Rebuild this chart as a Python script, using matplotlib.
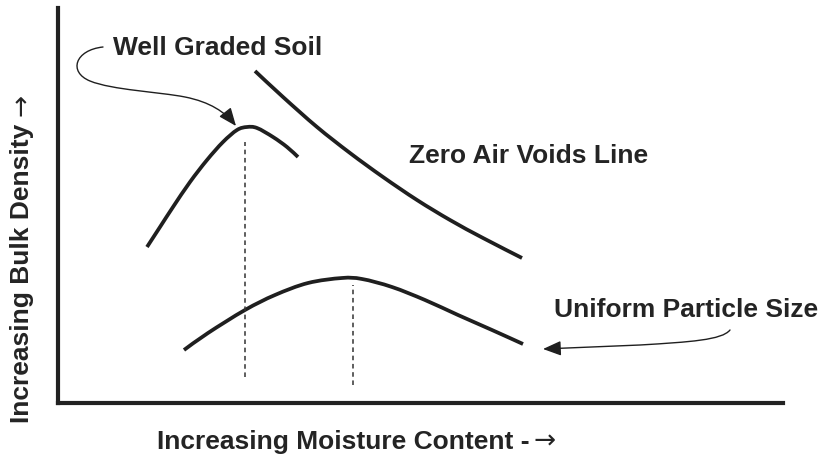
import matplotlib
matplotlib.use("Agg")
import matplotlib.pyplot as plt
from matplotlib.path import Path
from matplotlib.patches import FancyArrowPatch, PathPatch

plt.rcParams['font.family'] = ['Liberation Sans', 'DejaVu Sans']

# ---- data (arbitrary units) ----
well_x = [89, 102, 115, 132, 149, 165, 179, 189, 199, 215, 229, 240]
well_y = [156, 176, 196, 221, 243, 261, 273, 276, 275, 266, 256, 246]

zav_x = [197, 225, 259, 292, 325, 359, 392, 425, 464]
zav_y = [332, 306, 276, 250, 226, 203, 183, 165, 145]

unif_x = [126, 150, 187, 217, 250, 284, 304, 334, 367, 400, 434, 465]
unif_y = [53, 70, 93, 108, 120, 125, 124, 116, 103, 88, 73, 59]

opt_well_x = 187
opt_well_y = [26, 261]
opt_unif_x = 295
opt_unif_y = [18, 118]

label_well = "Well Graded Soil"
label_zav = "Zero Air Voids Line"
label_unif = "Uniform Particle Size"
xlabel = "Increasing Moisture Content -"
ylabel = "Increasing Bulk Density"
arrow_char = "\u2192"

W, H = 821, 467
fig = plt.figure(figsize=(W / 100, H / 100), dpi=100)
ax = fig.add_axes([58 / W, 64 / H, 725 / W, 395 / H])
ax.set_xlim(0, 725)
ax.set_ylim(0, 395)
ax.set_xticks([])
ax.set_yticks([])
for s in ['top', 'right']:
    ax.spines[s].set_visible(False)
for s in ['left', 'bottom']:
    ax.spines[s].set_linewidth(3.0)
    ax.spines[s].set_color('#222222')
    ax.spines[s].set_capstyle('projecting')

ink = '#1f1f1f'
lw_curve = 2.7


def smooth_path(xs, ys):
    """Catmull-Rom curve through the read points, as cubic Bezier segments."""
    pts = list(zip(xs, ys))
    verts = [pts[0]]
    codes = [Path.MOVETO]
    n = len(pts)
    for i in range(n - 1):
        p0 = pts[i - 1] if i > 0 else pts[i]
        p1 = pts[i]
        p2 = pts[i + 1]
        p3 = pts[i + 2] if i + 2 < n else pts[i + 1]
        c1 = (p1[0] + (p2[0] - p0[0]) / 6, p1[1] + (p2[1] - p0[1]) / 6)
        c2 = (p2[0] - (p3[0] - p1[0]) / 6, p2[1] - (p3[1] - p1[1]) / 6)
        verts += [c1, c2, p2]
        codes += [Path.CURVE4] * 3
    return Path(verts, codes)


for xs, ys in [(well_x, well_y), (zav_x, zav_y), (unif_x, unif_y)]:
    ax.add_patch(PathPatch(smooth_path(xs, ys), fill=False, edgecolor=ink,
                           lw=lw_curve, joinstyle='round', capstyle='butt'))

dash = (0, (3.0, 2.4))
ax.plot([opt_well_x, opt_well_x], opt_well_y, color='#333333', lw=1.1, linestyle=dash)
ax.plot([opt_unif_x, opt_unif_x], opt_unif_y, color='#333333', lw=1.1, linestyle=dash)

fs = 19
tc = '#242424'
ax.text(55, 348, label_well, fontsize=fs, fontweight='bold', color=tc, va='baseline', ha='left')
ax.text(351, 240, label_zav, fontsize=fs, fontweight='bold', color=tc, va='baseline', ha='left')
ax.text(496, 86, label_unif, fontsize=fs, fontweight='bold', color=tc, va='baseline', ha='left', clip_on=False)

# curved pointer arrows
p1 = Path([(45, 356), (17, 353), (10, 331), (32, 322),
           (54, 313), (102, 311), (127, 306),
           (152, 301), (167, 291), (178, 277)],
          [Path.MOVETO, Path.CURVE4, Path.CURVE4, Path.CURVE4,
           Path.CURVE4, Path.CURVE4, Path.CURVE4,
           Path.CURVE4, Path.CURVE4, Path.CURVE4])
a1 = FancyArrowPatch(path=p1, arrowstyle='-|>,head_length=11,head_width=4.5',
                     mutation_scale=1, color=ink, lw=1.0, transform=ax.transData,
                     clip_on=False)
ax.add_patch(a1)

p2 = Path([(672, 73), (664, 63), (632, 61), (582, 58), (485, 54)],
          [Path.MOVETO, Path.CURVE4, Path.CURVE4, Path.CURVE4, Path.LINETO])
a2 = FancyArrowPatch(path=p2, arrowstyle='-|>,head_length=11,head_width=4.5',
                     mutation_scale=1, color=ink, lw=1.0, transform=ax.transData,
                     clip_on=False)
ax.add_patch(a2)

# axis labels with a full-size arrow glyph appended
tx = fig.text(157 / W, 1 - 442 / H, xlabel, fontsize=fs, fontweight='bold', color=tc,
              ha='left', va='center')
fig.canvas.draw()
r = fig.canvas.get_renderer()
bb = tx.get_window_extent(r)
fig.text((bb.x1 + 4) / W, (bb.y0 + bb.y1) / 2 / H, arrow_char, fontsize=fs,
         color=tc, family='DejaVu Sans', ha='left', va='center')

ty = fig.text(22 / W, 44 / H, ylabel, fontsize=fs, fontweight='bold', color=tc,
              ha='center', va='bottom', rotation=90)
fig.canvas.draw()
bb = ty.get_window_extent(r)
fig.text((bb.x0 + bb.x1) / 2 / W, (bb.y1 + 8) / H, arrow_char, fontsize=fs,
         color=tc, family='DejaVu Sans', ha='center', va='bottom', rotation=90)

fig.savefig('out.png', dpi=100)
